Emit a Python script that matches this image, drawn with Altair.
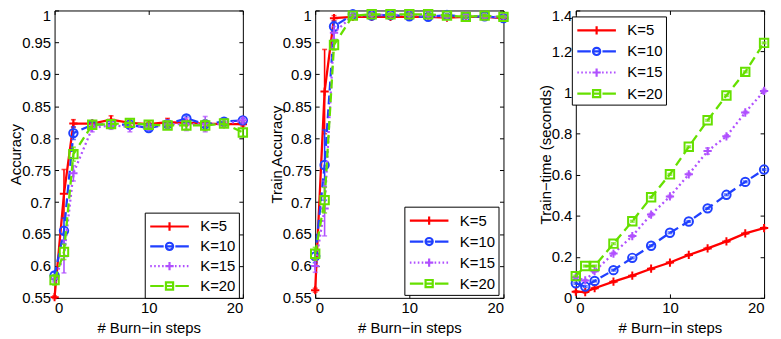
import altair as alt
import pandas as pd

# ---------------- data ----------------
steps = [0, 1, 2, 4, 6, 8, 10, 12, 14, 16, 18, 20]
series_names = ["K=5", "K=10", "K=15", "K=20"]
series_colors = ["#ff0000", "#2040ff", "#b050ff", "#66e000"]

# panel 1: test accuracy
acc_k5 = [0.551, 0.713, 0.823, 0.823, 0.829, 0.824, 0.822, 0.825, 0.824, 0.823, 0.822, 0.822]
acc_k10 = [0.585, 0.655, 0.808, 0.821, 0.822, 0.821, 0.816, 0.822, 0.831, 0.822, 0.826, 0.828]
acc_k15 = [0.580, 0.615, 0.745, 0.816, 0.820, 0.818, 0.818, 0.822, 0.822, 0.822, 0.822, 0.828]
acc_k20 = [0.578, 0.622, 0.775, 0.821, 0.822, 0.824, 0.821, 0.820, 0.820, 0.820, 0.823, 0.809]
acc_err_k5 = [0.002, 0.038, 0.006, 0.004, 0.006, 0.004, 0.003, 0.006, 0.004, 0.004, 0.003, 0.003]
acc_err_k10 = [0.005, 0.020, 0.010, 0.004, 0.004, 0.005, 0.004, 0.004, 0.004, 0.004, 0.004, 0.003]
acc_err_k15 = [0.005, 0.026, 0.012, 0.006, 0.006, 0.008, 0.004, 0.006, 0.010, 0.012, 0.004, 0.004]
acc_err_k20 = [0.008, 0.012, 0.011, 0.006, 0.006, 0.006, 0.004, 0.004, 0.006, 0.008, 0.004, 0.006]

# panel 2: train accuracy
tr_k5 = [0.562, 0.873, 0.988, 0.990, 0.990, 0.990, 0.990, 0.990, 0.989, 0.990, 0.990, 0.988]
tr_k10 = [0.615, 0.758, 0.975, 0.994, 0.992, 0.993, 0.991, 0.990, 0.993, 0.990, 0.991, 0.988]
tr_k15 = [0.600, 0.690, 0.965, 0.992, 0.993, 0.993, 0.993, 0.992, 0.990, 0.992, 0.990, 0.990]
tr_k20 = [0.619, 0.703, 0.946, 0.992, 0.994, 0.994, 0.994, 0.994, 0.992, 0.990, 0.992, 0.990]
tr_err_k5 = [0.003, 0.066, 0.004, 0.002, 0.002, 0.002, 0.002, 0.002, 0.002, 0.002, 0.002, 0.002]
tr_err_k10 = [0.010, 0.055, 0.008, 0.002, 0.002, 0.002, 0.002, 0.002, 0.002, 0.002, 0.002, 0.002]
tr_err_k15 = [0.010, 0.043, 0.010, 0.002, 0.002, 0.002, 0.002, 0.002, 0.002, 0.002, 0.002, 0.002]
tr_err_k20 = [0.010, 0.020, 0.008, 0.002, 0.002, 0.002, 0.002, 0.002, 0.002, 0.002, 0.002, 0.002]

# panel 3: train time (seconds)
tt_k5 = [0.030, 0.028, 0.047, 0.079, 0.108, 0.142, 0.172, 0.209, 0.241, 0.275, 0.314, 0.340]
tt_k10 = [0.071, 0.055, 0.082, 0.135, 0.195, 0.254, 0.317, 0.372, 0.436, 0.502, 0.565, 0.625]
tt_k15 = [0.100, 0.085, 0.130, 0.216, 0.301, 0.406, 0.494, 0.602, 0.715, 0.787, 0.903, 1.008]
tt_k20 = [0.106, 0.155, 0.155, 0.264, 0.373, 0.490, 0.602, 0.736, 0.865, 0.986, 1.101, 1.242]
tt_err_k5 = [0.004, 0.004, 0.004, 0.004, 0.004, 0.004, 0.004, 0.004, 0.004, 0.004, 0.004, 0.004]
tt_err_k10 = [0.004, 0.004, 0.004, 0.004, 0.004, 0.004, 0.004, 0.004, 0.004, 0.004, 0.004, 0.004]
tt_err_k15 = [0.004, 0.004, 0.004, 0.006, 0.006, 0.006, 0.006, 0.006, 0.015, 0.006, 0.006, 0.008]
tt_err_k20 = [0.004, 0.004, 0.004, 0.004, 0.004, 0.004, 0.004, 0.004, 0.004, 0.004, 0.004, 0.004]

acc_ticks = [0.55, 0.6, 0.65, 0.7, 0.75, 0.8, 0.85, 0.9, 0.95, 1]
time_ticks = [0, 0.2, 0.4, 0.6, 0.8, 1, 1.2, 1.4]
x_ticks = [0, 10, 20]

# ---------------- styles ----------------
FONT = "Liberation Sans"
DASHES = [None, [9, 5], [2, 3], [9, 5]]
PLUS = "M-1,0H1M0,-1V1"
MARKERS = [(PLUS, 70), ("circle", 72), (PLUS, 70), ("square", 72)]


def dotted(x0, x1, on=0.17, period=0.42):
    parts = []
    x = x0
    while x < x1 - 1e-9:
        parts.append(f"M{x:.3f},0H{min(x + on, x1):.3f}")
        x += period
    return "".join(parts)


# legend symbol paths (unit = 9.5 px, symbolSize 361)
CIRC = "M0.38,0A0.38,0.38 0 1,1 -0.38,0A0.38,0.38 0 1,1 0.38,0"
SQR = "M-0.38,-0.38H0.38V0.38H-0.38Z"
LEG_PATHS = [
    "M-2.05,0H2.05M0,-0.44V0.44",
    "M-2.05,0H-0.62M-0.38,0H0.38M0.62,0H2.05" + CIRC,
    dotted(-2.05, -0.47) + dotted(0.58, 2.05) + "M-0.44,0H0.44M0,-0.44V0.44",
    "M-2.05,0H-0.62M-0.38,0H0.38M0.62,0H2.05" + SQR,
]


def make_panel(means, errs, y_title, y_domain, y_ticks, lx, ly, row_pad):
    rows = []
    for name, m, e in zip(series_names, means, errs):
        for s, v, d in zip(steps, m, e):
            rows.append({"step": s, "value": v, "lo": v - d, "hi": v + d, "K": name})
    df = pd.DataFrame(rows)
    base = alt.Chart(df)

    xsc = alt.Scale(domain=[0, 20], nice=False, zero=False)
    ysc = alt.Scale(domain=y_domain, nice=False, zero=False)
    top = y_domain[1]
    is_top = f"datum.value >= {top - 1e-6}"

    ax_bottom = alt.Axis(orient="bottom", values=x_ticks, format="~g", title="# Burn\u2212in steps",
                         offset=-4, tickSize=4, domain=False, grid=False, labelPadding=3,
                         titlePadding=5)
    ax_left = alt.Axis(orient="left", values=y_ticks, format="~g", title=y_title,
                       offset=-4, tickSize=4, domain=False, grid=False, labelPadding=4,
                       titlePadding=-2,
                       labelBaseline={"condition": {"test": is_top, "value": "top"},
                                      "value": "middle"},
                       labelOffset={"condition": {"test": is_top, "value": -2},
                                    "value": 0})
    ax_top = alt.Axis(orient="top", values=x_ticks, labels=False, title=None,
                      offset=-4, tickSize=4, domain=False, grid=False)
    ax_right = alt.Axis(orient="right", values=y_ticks, labels=False, title=None,
                        offset=-4, tickSize=4, domain=False, grid=False)

    layers = []
    for i, name in enumerate(series_names):
        col = series_colors[i]
        sub = base.transform_filter(alt.datum.K == name)
        line_kw = dict(color=col, strokeWidth=2.3)
        if DASHES[i] is not None:
            line_kw["strokeDash"] = DASHES[i]
        line = sub.mark_line(**line_kw).encode(
            x=alt.X("step:Q", scale=xsc, axis=ax_bottom if i == 0 else None),
            y=alt.Y("value:Q", scale=ysc, axis=ax_left if i == 0 else None),
        )
        rule = sub.mark_rule(color=col, strokeWidth=1.6).encode(
            x=alt.X("step:Q", scale=xsc, axis=ax_top if i == 0 else None),
            y=alt.Y("lo:Q", scale=ysc, axis=ax_right if i == 0 else None),
            y2="hi:Q",
        )
        cap_lo = sub.mark_tick(orient="horizontal", size=5, thickness=1.6, color=col).encode(
            x=alt.X("step:Q", scale=xsc, axis=None),
            y=alt.Y("lo:Q", scale=ysc, axis=None),
        )
        cap_hi = sub.mark_tick(orient="horizontal", size=5, thickness=1.6, color=col).encode(
            x=alt.X("step:Q", scale=xsc, axis=None),
            y=alt.Y("hi:Q", scale=ysc, axis=None),
        )
        shp, msz = MARKERS[i]
        marker = sub.mark_point(shape=shp, size=msz, filled=False, color=col,
                                strokeWidth=2, opacity=1).encode(
            x=alt.X("step:Q", scale=xsc, axis=None),
            y=alt.Y("value:Q", scale=ysc, axis=None),
        )
        layers += [line, rule, cap_lo, cap_hi, marker]

    leg = alt.Legend(title=None, orient="none", legendX=lx, legendY=ly,
                     fillColor="white", strokeColor="black", padding=3,
                     symbolSize=361, symbolStrokeWidth=2.2, symbolOpacity=1,
                     symbolOffset=11, labelOffset=20,
                     labelFont=FONT, labelFontSize=15, labelColor="black",
                     rowPadding=row_pad)
    legend_layer = base.transform_filter("false").mark_point(
        filled=False, opacity=1, strokeWidth=2.2).encode(
        color=alt.Color("K:N", scale=alt.Scale(domain=series_names, range=series_colors), legend=leg),
        shape=alt.Shape("K:N", scale=alt.Scale(domain=series_names, range=LEG_PATHS), legend=leg),
    )
    layers.append(legend_layer)

    return alt.layer(*layers).resolve_axis(x="independent", y="independent").properties(
        width=190, height=290)


p1 = make_panel([acc_k5, acc_k10, acc_k15, acc_k20],
                [acc_err_k5, acc_err_k10, acc_err_k15, acc_err_k20],
                "Accuracy", [0.55, 1], acc_ticks, 91, 204, 0)
p2 = make_panel([tr_k5, tr_k10, tr_k15, tr_k20],
                [tr_err_k5, tr_err_k10, tr_err_k15, tr_err_k20],
                "Train Accuracy", [0.55, 1], acc_ticks, 90, 198, 1.2)
p3 = make_panel([tt_k5, tt_k10, tt_k15, tt_k20],
                [tt_err_k5, tt_err_k10, tt_err_k15, tt_err_k20],
                "Train\u2212time (seconds)", [0, 1.4], time_ticks, -4, 6, 1.3)

chart = alt.hconcat(p1, p2, p3, spacing=73, bounds="flush").resolve_scale(
    color="independent", shape="independent"
).resolve_legend(color="independent", shape="independent").properties(
    padding={"left": 0, "top": -4, "right": 0, "bottom": 0}
).configure_view(stroke="black", strokeWidth=1).configure_axis(
    labelFont=FONT, labelFontSize=15, labelColor="black",
    titleFont=FONT, titleFontSize=15, titleColor="black", titleFontWeight="normal",
    tickColor="black", tickWidth=1,
)

chart.save("out.html", embed_options={"renderer": "svg", "actions": False})
